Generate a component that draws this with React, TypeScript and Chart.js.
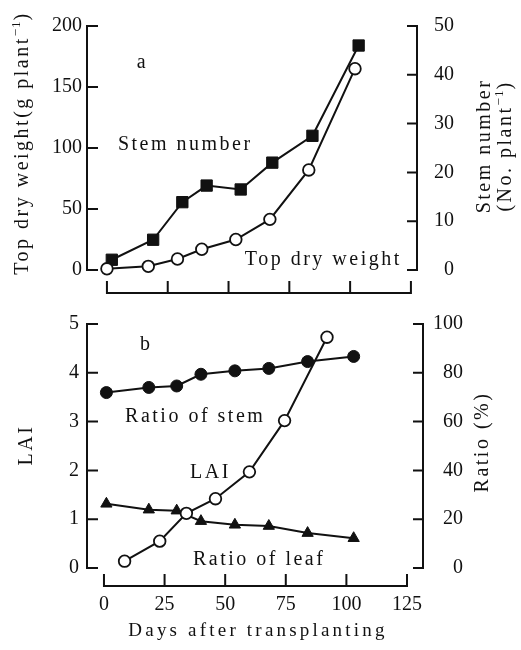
import React, { useEffect, useRef } from "react";
import { Chart, registerables } from "chart.js";

Chart.register(...registerables);

// ---------- data ----------
const weightDays = [0, 17, 29, 39, 53, 67, 83, 102];
const topDryWeight = [1, 3, 9, 17, 25, 41.5, 82, 165];
const stemDays = [2, 19, 31, 41, 55, 68, 84.5, 103.5];
const stemNumber = [2.1, 6.2, 13.9, 17.3, 16.5, 22, 27.5, 46];

const ratioDays = [1, 18.5, 30, 40, 54, 68, 84, 103];
const ratioStem = [71.9, 74, 74.6, 79.4, 80.8, 81.8, 84.6, 86.7];
const ratioLeaf = [26.3, 23.9, 23.5, 19.2, 17.7, 17.2, 14.3, 12.2];
const laiDays = [8.5, 23, 34, 46, 60, 74.5, 92];
const laiValues = [0.14, 0.55, 1.12, 1.42, 1.97, 3.02, 4.73];

const dayTicks = [0, 25, 50, 75, 100, 125];
const weightTicks = [0, 50, 100, 150, 200];
const stemTicks = [0, 10, 20, 30, 40, 50];
const laiTicks = [0, 1, 2, 3, 4, 5];
const ratioTicks = [0, 20, 40, 60, 80, 100];

// ---------- style ----------
const INK = "#111111";
const FAMILY = "'Liberation Serif', 'DejaVu Serif', serif";
const tickFont = { family: FAMILY, size: 20 };

type Part = { text: string; size: number; dy?: number; spacing?: number };

function drawRich(ctx: CanvasRenderingContext2D, parts: Part[], x: number, y: number, rot: number, align: "center" | "left") {
  ctx.save();
  ctx.translate(x, y);
  ctx.rotate(rot);
  ctx.fillStyle = INK;
  ctx.textAlign = "left";
  ctx.textBaseline = "alphabetic";
  let total = 0;
  const widths = parts.map((p) => {
    ctx.font = `${p.size}px ${FAMILY}`;
    (ctx as any).letterSpacing = `${p.spacing ?? 2.5}px`;
    const w = ctx.measureText(p.text).width;
    total += w;
    return w;
  });
  let cx = align === "center" ? -total / 2 : 0;
  parts.forEach((p, i) => {
    ctx.font = `${p.size}px ${FAMILY}`;
    (ctx as any).letterSpacing = `${p.spacing ?? 2.5}px`;
    ctx.fillText(p.text, cx, p.dy ?? 0);
    cx += widths[i];
  });
  ctx.restore();
}

type AxisOpts = {
  leftTicks: number[];
  rightTicks: number[];
  xGap: number;
  titles: { parts: Part[]; x: number; y: number; rot: number }[];
  notes: { text: string; day: number; val: number }[];
};

function makeAxisPlugin(o: AxisOpts) {
  return {
    id: "detachedAxes",
    beforeDatasetsDraw(chart: any) {
      const ctx: CanvasRenderingContext2D = chart.ctx;
      const { left, right, bottom } = chart.chartArea;
      const yl = chart.scales.yL;
      const yr = chart.scales.yR;
      const xs = chart.scales.x;
      ctx.save();
      ctx.strokeStyle = INK;
      ctx.lineWidth = 2;
      ctx.lineCap = "square";
      ctx.beginPath();
      // left axis
      ctx.moveTo(left, yl.getPixelForValue(o.leftTicks[0]));
      ctx.lineTo(left, yl.getPixelForValue(o.leftTicks[o.leftTicks.length - 1]));
      o.leftTicks.forEach((v) => {
        const p = yl.getPixelForValue(v);
        ctx.moveTo(left, p);
        ctx.lineTo(left + 10, p);
      });
      // right axis
      ctx.moveTo(right, yr.getPixelForValue(o.rightTicks[0]));
      ctx.lineTo(right, yr.getPixelForValue(o.rightTicks[o.rightTicks.length - 1]));
      o.rightTicks.forEach((v) => {
        const p = yr.getPixelForValue(v);
        ctx.moveTo(right, p);
        ctx.lineTo(right - 9, p);
      });
      // detached x axis
      const ay = bottom + o.xGap;
      ctx.moveTo(xs.getPixelForValue(dayTicks[0]), ay);
      ctx.lineTo(xs.getPixelForValue(dayTicks[dayTicks.length - 1]), ay);
      dayTicks.forEach((v) => {
        const p = xs.getPixelForValue(v);
        ctx.moveTo(p, ay);
        ctx.lineTo(p, ay - 11);
      });
      ctx.stroke();
      ctx.restore();
    },
    afterDraw(chart: any) {
      const ctx: CanvasRenderingContext2D = chart.ctx;
      const yl = chart.scales.yL;
      const xs = chart.scales.x;
      o.titles.forEach((t) => drawRich(ctx, t.parts, t.x, t.y, t.rot, "center"));
      o.notes.forEach((n) =>
        drawRich(ctx, [{ text: n.text, size: 20 }], xs.getPixelForValue(n.day), yl.getPixelForValue(n.val), 0, "left")
      );
    },
  };
}

function yScale(position: "left" | "right", min: number, max: number, ticks: number[], padding: number, width: number) {
  return {
    type: "linear" as const,
    position,
    min,
    max,
    afterBuildTicks: (s: any) => {
      s.ticks = ticks.map((v) => ({ value: v }));
    },
    afterFit: (s: any) => {
      s.width = width;
    },
    grid: { display: false, drawTicks: false, tickLength: 0 },
    border: { display: false },
    ticks: {
      font: tickFont,
      color: INK,
      padding,
      crossAlign: position === "right" ? ("far" as const) : ("near" as const),
    },
  };
}

function xScale(min: number, max: number, showLabels: boolean, height: number, padding: number) {
  return {
    type: "linear" as const,
    position: "bottom" as const,
    min,
    max,
    afterBuildTicks: (s: any) => {
      s.ticks = dayTicks.map((v) => ({ value: v }));
    },
    afterFit: (s: any) => {
      s.height = height;
    },
    grid: { display: false, drawTicks: false, tickLength: 0 },
    border: { display: false },
    ticks: { display: showLabels, font: tickFont, color: INK, padding, maxRotation: 0, autoSkip: false },
  };
}

const pts = (xs: number[], ys: number[]) => xs.map((x, i) => ({ x, y: ys[i] }));

const lineBase = {
  borderColor: INK,
  borderWidth: 2,
  tension: 0,
  clip: false as const,
  pointBorderColor: INK,
};

const UP = -Math.PI / 2;

function TopChart() {
  const ref = useRef<HTMLCanvasElement>(null);
  useEffect(() => {
    const chart = new Chart(ref.current!, {
      type: "line",
      data: {
        datasets: [
          {
            ...lineBase,
            label: "Top dry weight",
            data: pts(weightDays, topDryWeight),
            yAxisID: "yL",
            pointStyle: "circle",
            pointRadius: 5.8,
            pointBackgroundColor: "#ffffff",
            pointBorderWidth: 1.8,
          },
          {
            ...lineBase,
            label: "Stem number",
            data: pts(stemDays, stemNumber),
            yAxisID: "yR",
            pointStyle: "rect",
            pointRadius: 8,
            pointBackgroundColor: INK,
            pointBorderWidth: 1,
          },
        ],
      },
      options: {
        animation: false,
        responsive: false,
        layout: { padding: { top: 26, left: 0, right: 67, bottom: 0 } },
        plugins: { legend: { display: false }, tooltip: { enabled: false } },
        scales: {
          x: xScale(-8.2, 127.5, false, 30, 0),
          yL: yScale("left", 0, 200, weightTicks, 5, 87),
          yR: yScale("right", 0, 50, stemTicks, 0, 37),
        } as any,
      },
      plugins: [
        makeAxisPlugin({
          leftTicks: weightTicks,
          rightTicks: stemTicks,
          xGap: 23,
          titles: [
            {
              parts: [
                { text: "Top dry weight(g plant", size: 20 },
                { text: "−1", size: 13, dy: -8, spacing: 1 },
                { text: ")", size: 20 },
              ],
              x: 28,
              y: 143,
              rot: UP,
            },
            { parts: [{ text: "Stem number", size: 20 }], x: 490, y: 146, rot: UP },
            {
              parts: [
                { text: "(No. plant", size: 20 },
                { text: "−1", size: 13, dy: -8, spacing: 1 },
                { text: ")", size: 20 },
              ],
              x: 511,
              y: 146,
              rot: UP,
            },
          ],
          notes: [
            { text: "a", day: 12.3, val: 165.6 },
            { text: "Stem number", day: 4.5, val: 98.4 },
            { text: "Top dry weight", day: 56.7, val: 4.1 },
          ],
        }),
      ],
    });
    return () => chart.destroy();
  }, []);
  return <canvas ref={ref} width={521} height={300} style={{ display: "block" }} />;
}

function BottomChart() {
  const ref = useRef<HTMLCanvasElement>(null);
  useEffect(() => {
    const chart = new Chart(ref.current!, {
      type: "line",
      data: {
        datasets: [
          {
            ...lineBase,
            label: "LAI",
            data: pts(laiDays, laiValues),
            yAxisID: "yL",
            pointStyle: "circle",
            pointRadius: 5.8,
            pointBackgroundColor: "#ffffff",
            pointBorderWidth: 1.8,
          },
          {
            ...lineBase,
            label: "Ratio of stem",
            data: pts(ratioDays, ratioStem),
            yAxisID: "yR",
            pointStyle: "circle",
            pointRadius: 6,
            pointBackgroundColor: INK,
            pointBorderWidth: 1,
          },
          {
            ...lineBase,
            label: "Ratio of leaf",
            data: pts(ratioDays, ratioLeaf),
            yAxisID: "yR",
            pointStyle: "triangle",
            pointRadius: 6.5,
            pointBackgroundColor: INK,
            pointBorderWidth: 1,
          },
        ],
      },
      options: {
        animation: false,
        responsive: false,
        layout: { padding: { top: 24, left: 0, right: 58, bottom: 0 } },
        plugins: { legend: { display: false }, tooltip: { enabled: false } },
        scales: {
          x: xScale(-7.0, 131.6, true, 82, 25),
          yL: yScale("left", 0, 5, laiTicks, 8, 87),
          yR: yScale("right", 0, 100, ratioTicks, 0, 40),
        } as any,
      },
      plugins: [
        makeAxisPlugin({
          leftTicks: laiTicks,
          rightTicks: ratioTicks,
          xGap: 18,
          titles: [
            { parts: [{ text: "LAI", size: 20 }], x: 32, y: 145, rot: UP },
            { parts: [{ text: "Ratio (%)", size: 20 }], x: 488, y: 142, rot: UP },
            { parts: [{ text: "Days after transplanting", size: 19, spacing: 3.2 }], x: 258, y: 336, rot: 0 },
          ],
          notes: [
            { text: "b", day: 14.9, val: 4.47 },
            { text: "Ratio of stem", day: 8.7, val: 2.99 },
            { text: "LAI", day: 35.5, val: 1.84 },
            { text: "Ratio of leaf", day: 36.7, val: 0.06 },
          ],
        }),
      ],
    });
    return () => chart.destroy();
  }, []);
  return <canvas ref={ref} width={521} height={350} style={{ display: "block" }} />;
}

export default function App() {
  return (
    <div style={{ position: "absolute", left: 0, top: 0, width: 521, height: 650, background: "#ffffff" }}>
      <TopChart />
      <BottomChart />
    </div>
  );
}
